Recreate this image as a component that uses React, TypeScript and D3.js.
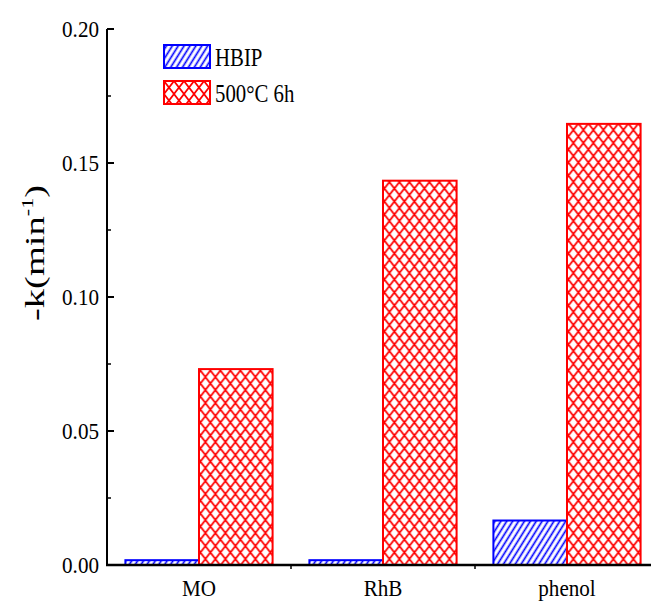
import * as d3 from "d3";

const categories = ["MO", "RhB", "phenol"];
const seriesNames = ["HBIP", "500°C 6h"];
const hbipValues = [0.0018, 0.0018, 0.0166];
const calcinedValues = [0.0731, 0.1434, 0.1646];
const yTicks = [0, 0.05, 0.1, 0.15, 0.2];
const yMinorTicks = [0.025, 0.075, 0.125, 0.175];

const W = 651;
const H = 602;
const AXIS_X = 107;
const AXIS_BOTTOM = 565;
const AXIS_TOP = 29;
const FONT = "'Liberation Serif', 'Times New Roman', serif";

export default function App() {
  const y = d3.scaleLinear().domain([0, 0.2]).range([AXIS_BOTTOM, AXIS_TOP]);
  const x = d3
    .scaleBand<string>()
    .domain(categories)
    .range([AXIS_X, AXIS_X + 552])
    .paddingInner(0.2)
    .paddingOuter(0.1);
  const xSub = d3.scaleBand<string>().domain(seriesNames).range([0, x.bandwidth()]);

  const rows = categories.map((c, i) => ({ c, vals: [hbipValues[i], calcinedValues[i]] }));
  const fills = ["url(#hatchBlue)", "url(#crossRed)"];
  const strokes = ["#0000ff", "#ff0000"];

  // boundaries between category bands
  const step = x.step();
  const boundaries = categories.slice(1).map((c) => x(c)! - (step - x.bandwidth()) / 2);

  return (
    <div style={{ position: "fixed", left: 0, top: 0 }}>
      <svg width={W} height={H} style={{ background: "#fff", display: "block" }}>
        <defs>
          <pattern id="hatchBlue" patternUnits="userSpaceOnUse" width={5} height={10} patternTransform="rotate(32)">
            <rect width={5} height={10} fill="#fff" />
            <line x1={2.5} y1={0} x2={2.5} y2={10} stroke="#0000ff" strokeWidth={1.7} />
          </pattern>
          <pattern id="crossRed" patternUnits="userSpaceOnUse" width={10} height={13}>
            <rect width={10} height={13} fill="#fff" />
            <path d="M0,0 L10,13 M10,0 L0,13" stroke="#ff0000" strokeWidth={1.7} />
          </pattern>
        </defs>

        {rows.map((r) => (
          <g key={r.c} transform={`translate(${x(r.c)},0)`}>
            {r.vals.map((v, j) => (
              <rect
                key={j}
                x={xSub(seriesNames[j])}
                y={y(v)}
                width={xSub.bandwidth()}
                height={AXIS_BOTTOM - y(v)}
                fill={fills[j]}
                stroke={strokes[j]}
                strokeWidth={2}
              />
            ))}
          </g>
        ))}

        {/* Y axis */}
        <line x1={AXIS_X} x2={AXIS_X} y1={AXIS_TOP} y2={AXIS_BOTTOM + 1} stroke="#000" strokeWidth={2} />
        {yTicks.map((t) => (
          <g key={t}>
            <line x1={AXIS_X} x2={AXIS_X + 7} y1={y(t)} y2={y(t)} stroke="#000" strokeWidth={2} />
            <text
              transform={`translate(${AXIS_X - 8},${y(t) + 8}) scale(0.88,1)`}
              textAnchor="end"
              fontFamily={FONT}
              fontSize={24}
              fill="#000"
            >
              {t.toFixed(2)}
            </text>
          </g>
        ))}
        {yMinorTicks.map((t) => (
          <line key={t} x1={AXIS_X} x2={AXIS_X + 4} y1={y(t)} y2={y(t)} stroke="#000" strokeWidth={1.5} />
        ))}

        {/* X axis */}
        <line x1={AXIS_X - 1} x2={W} y1={AXIS_BOTTOM} y2={AXIS_BOTTOM} stroke="#000" strokeWidth={2.5} />
        {boundaries.map((b) => (
          <line key={b} x1={b} x2={b} y1={AXIS_BOTTOM} y2={AXIS_BOTTOM + 4} stroke="#000" strokeWidth={1.5} />
        ))}
        {categories.map((c) => (
          <text
            key={c}
            transform={`translate(${x(c)! + x.bandwidth() / 2},${AXIS_BOTTOM + 31}) scale(0.88,1)`}
            textAnchor="middle"
            fontFamily={FONT}
            fontSize={24}
            fill="#000"
          >
            {c}
          </text>
        ))}

        {/* Y label */}
        <text
          transform={`translate(44,253) rotate(-90) scale(1.1,0.8)`}
          textAnchor="middle"
          fontFamily={FONT}
          fontSize={35}
          fill="#000"
        >
          -k(min<tspan dy={-14} fontSize={20}>-1</tspan>
          <tspan dy={14}>)</tspan>
        </text>

        {/* Legend */}
        {seriesNames.map((s, j) => (
          <g key={s} transform={`translate(164,${45 + j * 36})`}>
            <rect width={46} height={23} fill={fills[j]} stroke={strokes[j]} strokeWidth={2} />
            <text
              transform={`translate(51,21) scale(0.8,1)`}
              fontFamily={FONT}
              fontSize={26}
              fill="#000"
            >
              {s}
            </text>
          </g>
        ))}
      </svg>
    </div>
  );
}
